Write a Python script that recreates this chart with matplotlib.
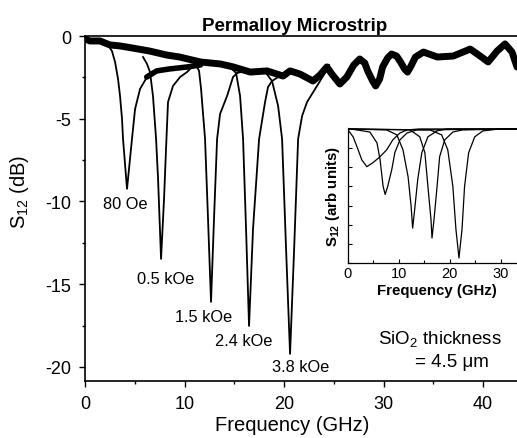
import numpy as np
import matplotlib
matplotlib.use('Agg')
import matplotlib.pyplot as plt

plt.rcParams['font.family'] = ['Liberation Sans', 'DejaVu Sans']
plt.rcParams['mathtext.default'] = 'regular'
plt.rcParams['axes.unicode_minus'] = False

# banda ruidosa superior (traza de referencia) y su parte oscilante
ref_f = [0.0, 0.5, 1.5, 2.5, 3.5, 4.8, 6.5, 8.2, 9.5, 11.6, 13.6, 14.9, 16.6, 18.3,
         19.9, 20.6, 21.6, 22.9, 23.6, 24.3, 24.8, 25.6, 26.3, 27.0, 27.6, 28.1,
         28.4, 28.9, 29.2, 29.6, 29.9, 30.4, 30.8, 31.3, 31.7, 32.1, 32.4, 32.7,
         33.2, 34.0, 35.4, 37.0, 38.7, 39.7, 40.5, 41.4, 42.2, 42.9, 43.4]
ref_s = [-0.18, -0.30, -0.30, -0.54, -0.60, -0.73, -0.91, -1.15, -1.27, -1.57, -1.69,
         -1.87, -2.18, -2.11, -2.42, -2.11, -2.30, -2.72, -2.36, -1.87, -2.30, -2.90,
         -2.48, -1.75, -1.39, -1.63, -2.11, -2.72, -3.02, -2.60, -1.87, -1.33, -1.09,
         -1.21, -1.57, -1.99, -2.18, -1.87, -1.27, -0.97, -1.27, -1.21, -0.79, -1.21,
         -1.57, -0.91, -0.48, -0.97, -1.87]

# banda inferior (recuperacion tras las primeras resonancias)
low_f = [6.2, 7.2, 8.5, 10.3, 11.6]
low_s = [-2.48, -2.11, -1.99, -1.87, -1.75]

# resonancias medidas
f_80 = [2.31, 2.71, 3.02, 3.32, 3.52, 3.72, 3.82, 4.02, 4.22, 4.42, 4.72, 5.03, 5.53, 6.23]
s_80 = [-0.54, -0.91, -1.57, -2.60, -3.63, -5.02, -6.22, -7.73, -9.24, -8.04, -6.22, -4.41, -3.20, -2.48]

f_05 = [5.83, 6.23, 6.53, 6.83, 7.14, 7.34, 7.64, 7.94, 8.14, 8.34, 8.84, 9.55, 10.25, 10.75]
s_05 = [-1.27, -1.69, -2.18, -3.63, -6.22, -8.64, -13.47, -9.85, -6.83, -3.99, -3.02, -2.48, -2.18, -1.87]

f_15 = [11.06, 11.46, 11.66, 11.86, 12.06, 12.36, 12.66, 12.96, 13.27, 13.57, 14.27, 14.87, 15.28, 16.08]
s_15 = [-1.63, -2.11, -3.20, -4.71, -6.22, -11.06, -16.07, -11.06, -6.22, -4.71, -3.63, -2.48, -2.24, -2.11]

f_24 = [14.57, 15.18, 15.58, 15.88, 16.18, 16.48, 16.88, 17.49, 18.09, 18.39, 18.79, 19.40]
s_24 = [-1.87, -2.24, -3.63, -6.22, -11.66, -17.52, -11.66, -6.22, -3.99, -3.08, -2.72, -2.48]

f_38 = [18.19, 18.79, 19.40, 19.80, 20.20, 20.60, 21.01, 21.41, 21.81, 22.31, 23.12, 23.92, 24.52]
s_38 = [-2.24, -2.72, -4.23, -6.22, -12.87, -19.21, -12.87, -6.22, -4.83, -3.99, -3.20, -2.42, -1.75]

etiquetas = ['80 Oe', '0.5 kOe', '1.5 kOe', '2.4 kOe', '3.8 kOe']
etiq_f = [1.8, 5.2, 9.05, 13.07, 18.8]
etiq_s = [-10.15, -14.68, -16.98, -18.43, -20.0]

# inset: curvas calculadas (unidades arbitrarias)
ins_f = [
    [0.0, 1.0, 2.0, 2.7, 3.7, 4.9, 6.3, 7.6, 8.8, 10.2, 11.6, 14.0, 33.2],
    [0.0, 1.0, 4.3, 5.7, 6.3, 6.9, 7.3, 7.8, 8.6, 9.2, 10.2, 11.6, 13.5, 33.2],
    [0.0, 7.6, 9.6, 10.8, 11.8, 12.4, 12.7, 13.1, 13.7, 14.5, 15.7, 17.5, 19.4, 33.2],
    [0.0, 12.2, 14.1, 15.1, 15.7, 16.3, 16.5, 16.9, 17.5, 18.0, 19.0, 20.6, 22.5, 33.2],
    [0.0, 16.1, 18.4, 19.6, 20.6, 21.2, 21.8, 22.4, 22.9, 23.7, 24.9, 26.5, 29.8, 33.2],
]
ins_s = [
    [-0.05, -0.41, -1.09, -1.61, -1.97, -1.76, -1.45, -1.09, -0.57, -0.21, -0.05, 0.0, 0.0],
    [0.0, -0.02, -0.16, -0.73, -1.61, -3.0, -3.42, -3.0, -2.12, -1.24, -0.57, -0.21, -0.05, 0.0],
    [0.0, -0.05, -0.31, -1.09, -2.49, -4.04, -5.18, -4.20, -2.64, -1.24, -0.41, -0.10, 0.0, 0.0],
    [0.0, -0.05, -0.41, -1.24, -3.0, -4.72, -5.70, -4.72, -3.0, -1.45, -0.57, -0.16, -0.05, 0.0],
    [0.0, -0.05, -0.31, -1.09, -3.0, -5.23, -6.74, -5.23, -3.0, -1.24, -0.41, -0.10, 0.0, 0.0],
]

fig = plt.figure(figsize=(5.17, 4.39), dpi=100)
ax = fig.add_axes([85/517, 57/439, 432/517, 345/439])

for f, s in [(f_80, s_80), (f_05, s_05), (f_15, s_15), (f_24, s_24), (f_38, s_38)]:
    ax.plot(f, s, color='black', lw=1.3, solid_joinstyle='round')
ax.plot(low_f, low_s, color='black', lw=4.0, solid_capstyle='round')
ax.plot(ref_f, ref_s, color='black', lw=5.0, solid_capstyle='round', solid_joinstyle='round')

for t, x, y in zip(etiquetas, etiq_f, etiq_s):
    ax.text(x, y, t, fontsize=11.8, ha='left', va='center')

ax.text(29.4, -18.55, 'SiO$_2$ thickness', fontsize=13.5, ha='left', va='baseline')
ax.text(33.2, -19.93, '= 4.5 μm', fontsize=13.5, ha='left', va='baseline')

ax.set_xlim(0, 43.4)
ax.set_ylim(-20.85, 0)
ax.set_xticks([0, 10, 20, 30, 40])
ax.set_xticks([5, 15, 25, 35], minor=True)
ax.set_yticks([-20, -15, -10, -5, 0])
ax.set_yticks([-17.5, -12.5, -7.5, -2.5], minor=True)
ax.tick_params(which='major', length=4, width=1.0, labelsize=13, pad=6)
ax.tick_params(which='minor', length=2.5, width=1.0)
ax.spines['right'].set_visible(False)
for sp in ['left', 'bottom', 'top']:
    ax.spines[sp].set_linewidth(1.2)

ax.set_xlabel('Frequency (GHz)', fontsize=14.5)
ax.xaxis.set_label_coords(0.48, -0.1)
ax.set_ylabel('S$_{12}$ (dB)', fontsize=14.5)
ax.yaxis.set_label_coords(-0.125, 0.55)
ax.set_title('Permalloy Microstrip', fontsize=13.5, fontweight='bold', x=0.485, pad=4)

# inset
axi = fig.add_axes([348/517, 175/439, 169/517, 135/439])
for f, s in zip(ins_f, ins_s):
    axi.plot(f, s, color='black', lw=0.9)
axi.set_xlim(0, 33.2)
axi.set_ylim(-7, 0.05)
axi.set_xticks([0, 10, 20, 30])
axi.set_xticks([5, 15, 25], minor=True)
axi.set_yticks(np.arange(-7, 1, 1))
axi.set_yticklabels([])
axi.tick_params(which='both', direction='in', length=3, width=0.8, labelsize=10.5, pad=2)
axi.tick_params(which='minor', length=2)
axi.spines['right'].set_visible(False)
axi.spines['top'].set_visible(False)
for sp in ['left', 'bottom']:
    axi.spines[sp].set_linewidth(0.9)
axi.set_xlabel('Frequency (GHz)', fontsize=10.8, fontweight='bold')
axi.xaxis.set_label_coords(0.525, -0.15)
axi.set_ylabel('S$_{12}$ (arb units)', fontsize=10.8, fontweight='bold', labelpad=2)

fig.savefig('out.png', dpi=100)
